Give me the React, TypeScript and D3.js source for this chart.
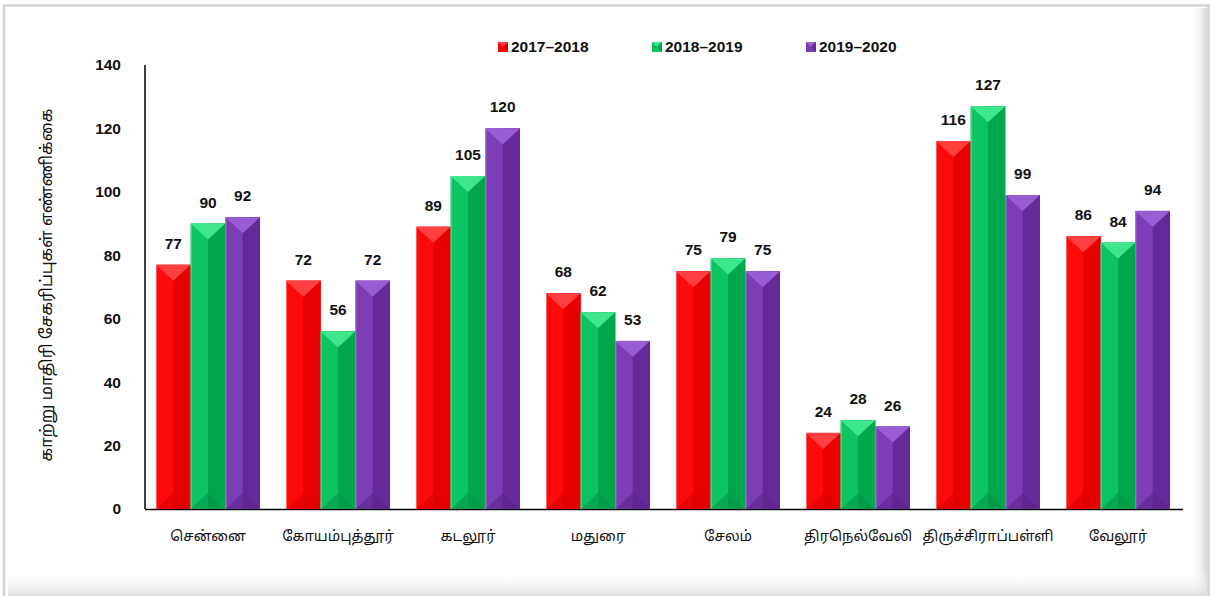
import React from "react";
import * as d3 from "d3";

const categories = ["சென்னை", "கோயம்புத்தூர்", "கடலூர்", "மதுரை", "சேலம்", "திரநெல்வேலி", "திருச்சிராப்பள்ளி", "வேலூர்"];
const seriesNames = ["2017–2018", "2018–2019", "2019–2020"];
const values2017 = [77, 72, 89, 68, 75, 24, 116, 86];
const values2018 = [90, 56, 105, 62, 79, 28, 127, 84];
const values2019 = [92, 72, 120, 53, 75, 26, 99, 94];
const yTicks = [0, 20, 40, 60, 80, 100, 120, 140];
const yTitle = "காற்று மாதிரி சேகரிப்புகள் எண்ணிக்கை";

const palettes = [
  { base: "#FF0000", left: "#FF0A0A", right: "#E80000", top: "#FF4040", bottom: "#D80000" },
  { base: "#08C05E", left: "#0CC462", right: "#00A64C", top: "#3EE68C", bottom: "#00964A" },
  { base: "#7A3AB2", left: "#7D3DB5", right: "#66299A", top: "#9A5CD2", bottom: "#5C238C" },
];

const W = 1230, H = 596;
const font = "Arial, 'Liberation Sans', Helvetica, sans-serif";
const tamilFont = "'Noto Sans Tamil', 'Lohit Tamil', 'Noto Sans', 'DejaVu Sans', Arial, sans-serif";

export default function App() {
  const series = [values2017, values2018, values2019];
  const x0 = d3.scaleBand<string>().domain(categories).range([143, 1183]).paddingInner(0.2).paddingOuter(0.1);
  const x1 = d3.scaleBand<string>().domain(seriesNames).range([0, x0.bandwidth()]).padding(0);
  const y = d3.scaleLinear().domain([0, 140]).range([509, 65]);

  const bars: React.ReactNode[] = [];
  categories.forEach((c, ci) => {
    series.forEach((vals, si) => {
      const v = vals[ci];
      const bx = (x0(c) as number) + (x1(seriesNames[si]) as number);
      const bw = x1.bandwidth();
      const top = y(v);
      const bot = y(0);
      const p = palettes[si];
      const d = Math.min(16, (bot - top) / 2);
      const mid = bx + bw / 2;
      bars.push(
        <g key={`${ci}-${si}`}>
          <rect x={bx} y={top} width={bw} height={bot - top} fill={p.base} />
          <rect x={bx} y={top} width={bw / 2} height={bot - top} fill={p.left} />
          <rect x={mid} y={top} width={bw / 2} height={bot - top} fill={p.right} />
          <path d={`M${bx},${top}L${bx + bw},${top}L${mid},${top + d}Z`} fill={p.top} />
          <path d={`M${bx},${bot}L${bx + bw},${bot}L${mid},${bot - d}Z`} fill={p.bottom} opacity={0.6} />
          <line x1={bx + 0.5} x2={bx + 0.5} y1={top} y2={bot} stroke="#ffffff" strokeOpacity={0.35} />
          <text x={mid} y={top - 16} textAnchor="middle" fontFamily={font} fontSize={15.5} fontWeight="bold" fill="#111">{v}</text>
        </g>
      );
    });
  });

  const legendX = [498, 652, 806];

  return (
    <svg width={W} height={H} style={{ position: "absolute", left: 0, top: 0 }}>
      <defs>
        <linearGradient id="shR" x1="0" x2="1" y1="0" y2="0">
          <stop offset="0" stopColor="#ffffff" stopOpacity={0} />
          <stop offset="1" stopColor="#d8d8d8" stopOpacity={1} />
        </linearGradient>
        <linearGradient id="shB" x1="0" x2="0" y1="0" y2="1">
          <stop offset="0" stopColor="#ffffff" stopOpacity={0} />
          <stop offset="1" stopColor="#e0e0e0" stopOpacity={1} />
        </linearGradient>
      </defs>
      <rect x={0} y={0} width={W} height={H} fill="#ffffff" />
      <rect x={1190} y={8} width={17} height={H} fill="url(#shR)" />
      <rect x={8} y={570} width={1200} height={26} fill="url(#shB)" />
      <path d={`M4,${H}L4,5.5L1208.5,5.5L1208.5,${H}`} fill="none" stroke="#d4d4d4" strokeWidth={2.5} />

      <line x1={145} x2={145} y1={y(140)} y2={y(0)} stroke="#000" strokeWidth={1.5} />
      <line x1={145} x2={1183} y1={y(0) + 0.5} y2={y(0) + 0.5} stroke="#000" strokeWidth={1.5} />
      {yTicks.map((t) => (
        <text key={t} x={121} y={y(t)} dy="0.35em" textAnchor="end" fontFamily={font} fontSize={15.5} fontWeight="bold" fill="#111">{t}</text>
      ))}
      <text transform={`translate(46,${285}) rotate(-90)`} textAnchor="middle" dy="0.35em" fontFamily={tamilFont} fontSize={16.5} fill="#111">{yTitle}</text>

      {bars}

      {categories.map((c) => (
        <text key={c} x={(x0(c) as number) + x0.bandwidth() / 2} y={536} dy="0.35em" textAnchor="middle" fontFamily={tamilFont} fontSize={14.5} fill="#111">{c}</text>
      ))}

      {seriesNames.map((s, i) => {
        const p = palettes[i];
        const lx = legendX[i];
        return (
          <g key={s}>
            <rect x={lx} y={42} width={10} height={10} fill={p.base} />
            <path d={`M${lx},42L${lx + 10},42L${lx + 5},47Z`} fill={p.top} />
            <path d={`M${lx + 5},47L${lx + 10},42L${lx + 10},52Z`} fill={p.right} />
            <text x={lx + 13} y={47} dy="0.35em" fontFamily={font} fontSize={15.5} fontWeight="bold" fill="#111">{s}</text>
          </g>
        );
      })}
    </svg>
  );
}
